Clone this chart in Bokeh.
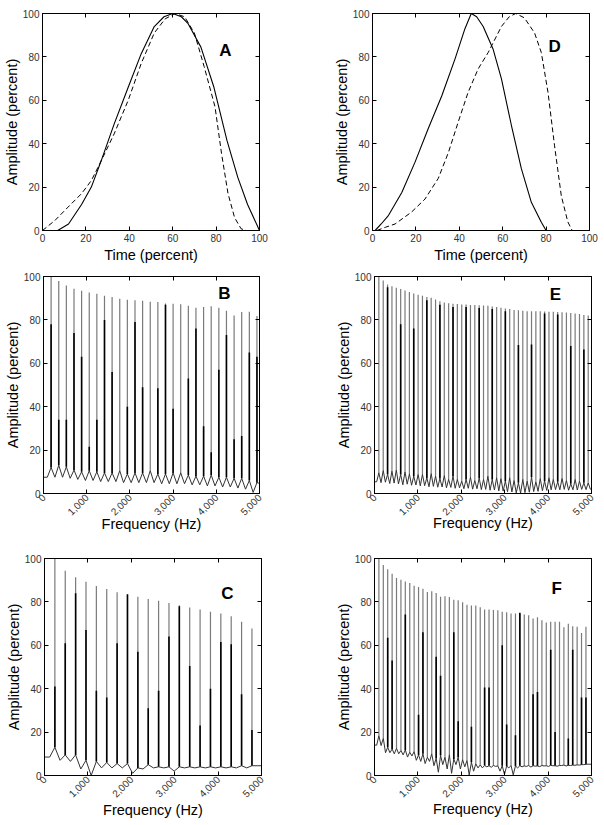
import math
from bokeh.plotting import figure
from bokeh.models import LinearAxis, FixedTicker, Range1d
from bokeh.layouts import column, row
from bokeh.embed import file_html
from bokeh.resources import INLINE
from bokeh.core.properties import value

FONT = "Liberation Sans"

# ---------------- tick values / labels ----------------
amp_ticks = [0, 20, 40, 60, 80, 100]
amp_tick_labels = ["0", "20", "40", "60", "80", "100"]
time_ticks = [0, 20, 40, 60, 80, 100]
time_tick_labels = ["0", "20", "40", "60", "80", "100"]
freq_ticks = [0, 1000, 2000, 3000, 4000, 5000]
freq_tick_labels = ["0", "1,000", "2,000", "3,000", "4,000", "5,000"]

# ---------------- panel A (time waveforms) ----------------
A_time_solid = [0, 7, 12, 18, 22.5, 27, 33, 39.5, 45.5, 51.5, 56, 60, 64, 67, 73, 79, 85, 90, 94.5, 100]
A_amp_solid = [0, 0, 3, 12, 20, 32, 49, 66, 81.5, 94, 98.5, 100, 98.5, 95.5, 84.5, 66, 41.5, 24.5, 12, 0]
A_time_dash = [0, 5.7, 11.8, 18, 22.5, 27, 33, 39.5, 45.5, 51.5, 56.5, 61, 65.5, 70, 74.5, 79.5, 82.5, 85.5, 88.5, 91.5, 94, 100]
A_amp_dash = [0, 4.6, 10.8, 17, 23, 32, 44.5, 60, 77, 91, 97.5, 100, 98.5, 91, 75.5, 57, 35.5, 17, 6, 0.8, 0, 0]

# ---------------- panel D (time waveforms) ----------------
D_time_solid = [1.2, 4, 7.4, 13.5, 19.6, 25.7, 31.9, 38, 42.6, 45.5, 48, 51, 55.6, 59.4, 64, 68.6, 73.2, 77.8, 80]
D_amp_solid = [0, 3, 7, 17.5, 31.5, 47, 62, 79, 93, 100, 98.5, 94, 83.5, 70, 48.5, 28.5, 13, 3.8, 0]
D_time_dash = [2, 6, 10.4, 18, 24.2, 30.3, 35, 39.5, 44, 48.7, 53.3, 59.4, 63, 66, 70, 74.7, 77.8, 80.9, 83.9, 87, 90, 92]
D_amp_dash = [0, 1.5, 3, 8.5, 14.5, 24, 36, 50, 63.5, 74.5, 82, 94, 98.5, 100, 98, 91, 82, 63.5, 39, 16, 4, 0]

# ---------------- panel B (spectrum) ----------------
B_freq = [176, 353, 529, 706, 882, 1059, 1235, 1412, 1588, 1765, 1941, 2118, 2294, 2471,
          2647, 2824, 3000, 3176, 3353, 3529, 3706, 3882, 4059, 4235, 4412, 4588, 4765, 4941]
B_peak = [100, 97.9, 95.9, 94.3, 93.4, 92.6, 92.0, 91.1, 90.5, 89.8, 89.3, 89.0, 88.8, 88.4,
          88.2, 87.6, 87.5, 87.2, 86.5, 85.6, 86.0, 86.3, 85.6, 84.2, 82.0, 83.6, 83.8, 81.8]
B_shoulder = [78, 34, 34, 74, 63, 21.5, 34, 80, 56, 0, 40, 79, 49, 0,
              48.5, 87, 39, 0, 53, 76, 31, 19, 57, 73, 25, 26.5, 65, 63]
B_base = [12, 13, 12.3, 10.8, 10, 10.5, 10, 9.5, 9.5, 10.5, 9, 9.5, 9.5, 10.5,
          9, 9, 9.5, 9.5, 8.5, 8, 8, 8.5, 7.5, 7.5, 7, 7, 6, 5]
B_trough = [7.5, 7.5, 7, 6.5, 6, 6, 5.5, 5.5, 5.5, 5, 5, 5, 5, 5,
            4.5, 4.5, 4.5, 4.5, 4, 4, 3.5, 3.5, 3, 3, 2.5, 2, 0.5]
B_start, B_end = 7.5, 4.5

# ---------------- panel C (spectrum) ----------------
C_freq = [239, 478, 717, 956, 1195, 1434, 1673, 1912, 2151, 2390,
          2629, 2868, 3107, 3346, 3585, 3824, 4063, 4302, 4541, 4780]
C_peak = [100, 94.3, 91.4, 89.3, 87.3, 85.9, 84.5, 83.3, 82.4, 81.3,
          80.5, 79.5, 78.5, 77.4, 76.5, 75.5, 74.6, 73.4, 70.8, 67.7]
C_shoulder = [41, 61, 84, 67, 39, 36, 61, 83.5, 57, 31,
              39, 64, 78, 50.5, 23, 40, 61.5, 60.5, 37.5, 21]
C_base = [13, 9.5, 9.5, 7, 6.5, 6, 5.5, 5.5, 3.5, 5,
          4, 4, 4, 4, 4, 4, 4, 4, 4.5, 4.5]
C_trough = [7, 6.5, 3, 0, 3.5, 3.5, 3.5, 1, 3, 3.5,
            3.5, 2, 3.5, 3.5, 3.5, 3.5, 3.5, 3.5, 3.5]
C_start, C_end = 8.5, 4.5

# ---------------- panel E (spectrum) ----------------
E_freq = [100, 201, 301, 402, 502, 603, 703, 804, 904, 1005, 1105, 1206, 1306, 1407, 1507, 1608, 1708,
          1809, 1909, 2010, 2110, 2211, 2311, 2412, 2512, 2613, 2713, 2814, 2914, 3015, 3115, 3216, 3316,
          3417, 3517, 3618, 3718, 3819, 3919, 4020, 4120, 4221, 4321, 4422, 4522, 4623, 4723, 4824, 4924]
E_peak = [100, 98.2, 96.3, 95.5, 94.8, 94.2, 93.5, 92.9, 92.2, 91.6, 91.1, 90.6, 90.2, 89.4, 88.6, 88.0, 87.7,
          87.4, 87.3, 87.1, 87.1, 86.9, 86.9, 86.7, 86.6, 86.5, 86.2, 85.9, 85.6, 85.3, 85.0, 84.6, 84.4,
          84.2, 84.0, 84.0, 84.0, 84.0, 83.9, 83.8, 83.8, 83.6, 83.5, 83.4, 83.2, 83.0, 82.7, 82.3, 82.0]
E_shoulder = [0, 0, 95, 0, 0, 78, 0, 0, 76, 0, 0, 89, 0, 0, 87, 0, 0,
              86, 0, 0, 86, 0, 0, 85.5, 0, 0, 85, 0, 0, 84, 0, 0, 68.4,
              0, 0, 68.7, 0, 0, 83, 0, 0, 82.5, 0, 0, 68, 0, 0, 66.4, 0]
E_base = [9.5, 10.6, 8.8, 10.3, 10.8, 8.8, 10.0, 9.0, 8.0, 8.8, 8.8, 7.2, 9.2, 8.0, 6.9, 8.3, 6.5,
          8.0, 6.5, 5.7, 6.5, 7.5, 6.0, 7.2, 6.5, 8.0, 6.5, 7.2, 6.9, 5.7, 7.2, 6.0, 4.9,
          6.5, 5.7, 7.5, 5.4, 6.9, 5.7, 7.2, 6.5, 5.4, 7.0, 6.0, 4.5, 6.5, 5.7, 4.9, 4.9]
E_trough = [5.0, 5.2, 4.6, 4.8, 4.4, 4.0, 4.3, 3.8, 3.9, 3.5, 3.6, 3.1, 3.3, 2.9, 3.0, 2.6, 2.8,
            2.4, 2.6, 2.2, 2.4, 2.0, 2.2, 1.8, 1.9, 1.5, 1.6, 1.2, 1.1, 0.8, 0.7, 0.3, 0.2,
            0.4, 0.6, 0.9, 1.0, 1.3, 1.4, 1.7, 1.8, 1.7, 1.9, 1.5, 1.7, 1.6, 1.9, 1.8]
E_start, E_end = 5.4, 2.0

# ---------------- panel F (spectrum) ----------------
F_freq = [101, 203, 304, 406, 507, 609, 710, 812, 913, 1015, 1116, 1218, 1319, 1421, 1522, 1624,
          1725, 1827, 1928, 2030, 2131, 2233, 2334, 2436, 2537, 2639, 2740, 2842, 2943, 3045, 3146, 3248,
          3349, 3451, 3552, 3654, 3755, 3857, 3958, 4060, 4161, 4263, 4364, 4466, 4567, 4669, 4770, 4872]
F_peak = [100, 97, 95.1, 93, 91, 90.2, 89.4, 88.7, 87.5, 86.9, 86.1, 84.6, 84.9, 84.1, 82.4, 82.6,
          82.3, 81, 80.8, 79.8, 78.7, 78.3, 78.3, 77.5, 76.5, 76.5, 76.3, 76.1, 75.5, 75.2, 74.6, 74.6,
          74.6, 74.2, 73.8, 72.4, 72.9, 71.6, 70.5, 70.9, 70.8, 70.8, 68.3, 69.9, 68.8, 68.5, 65.7, 68.5]
F_shoulder = [18, 17, 63.5, 53, 0, 0, 74.2, 0, 0, 28, 66, 0, 0, 54.7, 46, 0,
              0, 66, 25, 0, 0, 22.5, 0, 0, 40.5, 40.5, 0, 0, 60, 23.5, 0, 18.6,
              75, 0, 0, 37.5, 38.5, 0, 0, 58, 20, 0, 0, 17, 58, 0, 36, 36]
F_base = [18.3, 17.1, 13, 12.2, 12.5, 11.5, 11.8, 10.7, 11, 9.5, 10, 8.4, 10, 8, 9.2, 8.4,
          9.5, 7.6, 8.4, 7.3, 6.9, 6.1, 5.4, 4.9, 4.6, 4.5, 4.6, 4.4, 4.5, 4.3, 4.6, 4.4,
          4.5, 4.4, 4.6, 4.5, 4.4, 4.6, 4.5, 4.7, 4.5, 4.6, 4.8, 4.7, 4.8, 4.9, 5.0, 5.2]
F_trough = [13.8, 10.5, 10.5, 10, 10, 9.5, 8.5, 9, 7, 6.5, 5.5, 6.5, 4.5, 1.5, 5, 3,
            1, 5, 3, 4, 0.2, 2, 3.5, 3.5, 4, 3.8, 4.2, 2, 0.5, 3.5, 0.3, 3.5,
            4, 4.2, 3.9, 4.3, 4.1, 4.4, 4.2, 4.5, 4.3, 4.6, 4.4, 4.6, 4.7, 4.8, 5.0]
F_start, F_end = 14, 5.2


def baseline_path(freq, base, trough, start, end, fmax):
    """Baseline through the read values: flat start, hump at each harmonic, troughs between."""
    xs = [0.0, freq[0] * 0.5]
    ys = [start, start]
    n = len(freq)
    for k in range(n):
        xs.append(freq[k])
        ys.append(base[k])
        if k < n - 1:
            xs.append(0.5 * (freq[k] + freq[k + 1]))
            ys.append(trough[k])
    xs += [freq[-1] + 0.5 * (freq[-1] - freq[-2]), fmax]
    ys += [end, end]
    return xs, ys


def make_panel(xmax, xticks, xlabels, xlabel, rotate, fw, bl, br, bt, bb, xstand=2):
    p = figure(frame_width=fw, frame_height=217,
               x_range=Range1d(0, xmax), y_range=Range1d(0, 100),
               output_backend="svg", toolbar_location=None,
               min_border_left=bl, min_border_right=br,
               min_border_top=bt, min_border_bottom=bb,
               x_axis_label=xlabel, y_axis_label="Amplitude (percent)")
    p.grid.visible = False
    p.outline_line_color = "black"
    p.outline_line_width = 1
    p.background_fill_color = "white"
    p.border_fill_color = "white"
    for ax in (p.xaxis[0], p.yaxis[0]):
        ax.major_tick_in = 4
        ax.major_tick_out = 0
        ax.minor_tick_line_color = None
        ax.axis_line_color = "black"
        ax.major_tick_line_color = "black"
        ax.major_label_text_font = FONT
        ax.major_label_text_font_size = "10px"
        ax.major_label_text_color = "#333333"
        ax.axis_label_text_font = FONT
        ax.axis_label_text_font_size = "14.5px"
        ax.axis_label_text_font_style = "normal"
        ax.axis_label_text_color = "black"
        ax.major_label_standoff = 3
        ax.axis_label_standoff = 0
    p.xaxis.ticker = FixedTicker(ticks=xticks)
    p.xaxis.major_label_overrides = {t: l for t, l in zip(xticks, xlabels)}
    p.xaxis.axis_label_standoff = xstand
    p.yaxis.ticker = FixedTicker(ticks=amp_ticks)
    p.yaxis.major_label_overrides = {t: l for t, l in zip(amp_ticks, amp_tick_labels)}
    if rotate:
        p.xaxis.major_label_orientation = math.pi / 4
        p.xaxis.major_label_standoff = 2
    for side, ticks in (("right", amp_ticks), ("above", xticks)):
        ax = LinearAxis(ticker=FixedTicker(ticks=ticks), major_tick_in=4, major_tick_out=0,
                        minor_tick_line_color=None, major_label_text_font_size="0px",
                        major_label_text_color=None, major_label_standoff=0,
                        axis_line_color="black", major_tick_line_color="black")
        p.add_layout(ax, side)
    return p


def add_letter(p, x, y, letter):
    p.text(x=[x], y=[y], text=[letter], text_font=value(FONT), text_font_style="bold",
           text_font_size="17px", text_align="center", text_baseline="middle", text_color="black")


def add_wave(p, ts, ys, td, yd):
    p.line(ts, ys, line_color="black", line_width=1.1)
    p.line(td, yd, line_color="black", line_width=1.0, line_dash="5 3")


def add_spectrum(p, freq, peak, shoulder, base, trough, start, end):
    xs, ys = baseline_path(freq, base, trough, start, end, 5000)
    # spikes: thin grey strokes from the hump to the peak
    p.segment(x0=freq, y0=base, x1=freq, y1=peak, line_color="#7a7a7a", line_width=1.2)
    # darker lower part of the spikes (where the strokes overlap)
    sx = [f for f, s, b in zip(freq, shoulder, base) if s > b]
    s0 = [b for f, s, b in zip(freq, shoulder, base) if s > b]
    s1 = [s for f, s, b in zip(freq, shoulder, base) if s > b]
    p.segment(x0=sx, y0=s0, x1=sx, y1=s1, line_color="black", line_width=1.6)
    p.line(xs, ys, line_color="#333333", line_width=1.0)


# left column: 300 px wide, right column starts at x = 300
pA = make_panel(100, time_ticks, time_tick_labels, "Time (percent)", False, 217, 41, 42, 13, 38)
add_wave(pA, A_time_solid, A_amp_solid, A_time_dash, A_amp_dash)
add_letter(pA, 84.3, 83, "A")

pD = make_panel(100, time_ticks, time_tick_labels, "Time (percent)", False, 217, 71, 10, 11, 40)
add_wave(pD, D_time_solid, D_amp_solid, D_time_dash, D_amp_dash)
add_letter(pD, 83.9, 85, "D")

pB = make_panel(5000, freq_ticks, freq_tick_labels, "Frequency (Hz)", True, 216, 43, 41, 8, 57, -6)
add_spectrum(pB, B_freq, B_peak, B_shoulder, B_base, B_trough, B_start, B_end)
add_letter(pB, 4186, 92, "B")

pE = make_panel(5000, freq_ticks, freq_tick_labels, "Frequency (Hz)", True, 217, 74, 10, 6, 59, -7)
add_spectrum(pE, E_freq, E_peak, E_shoulder, E_base, E_trough, E_start, E_end)
add_letter(pE, 4170, 91.8, "E")

pC = make_panel(5000, freq_ticks, freq_tick_labels, "Frequency (Hz)", True, 217, 44, 39, 8, 47, -2)
add_spectrum(pC, C_freq, C_peak, C_shoulder, C_base, C_trough, C_start, C_end)
add_letter(pC, 4213, 84, "C")

pF = make_panel(5000, freq_ticks, freq_tick_labels, "Frequency (Hz)", True, 217, 74, 10, 4, 51, -3)
add_spectrum(pF, F_freq, F_peak, F_shoulder, F_base, F_trough, F_start, F_end)
add_letter(pF, 4198, 86, "F")

layout = column(row(pA, pD), row(pB, pE), row(pC, pF))

with open("out.html", "w") as fh:
    fh.write(file_html(layout, INLINE))
